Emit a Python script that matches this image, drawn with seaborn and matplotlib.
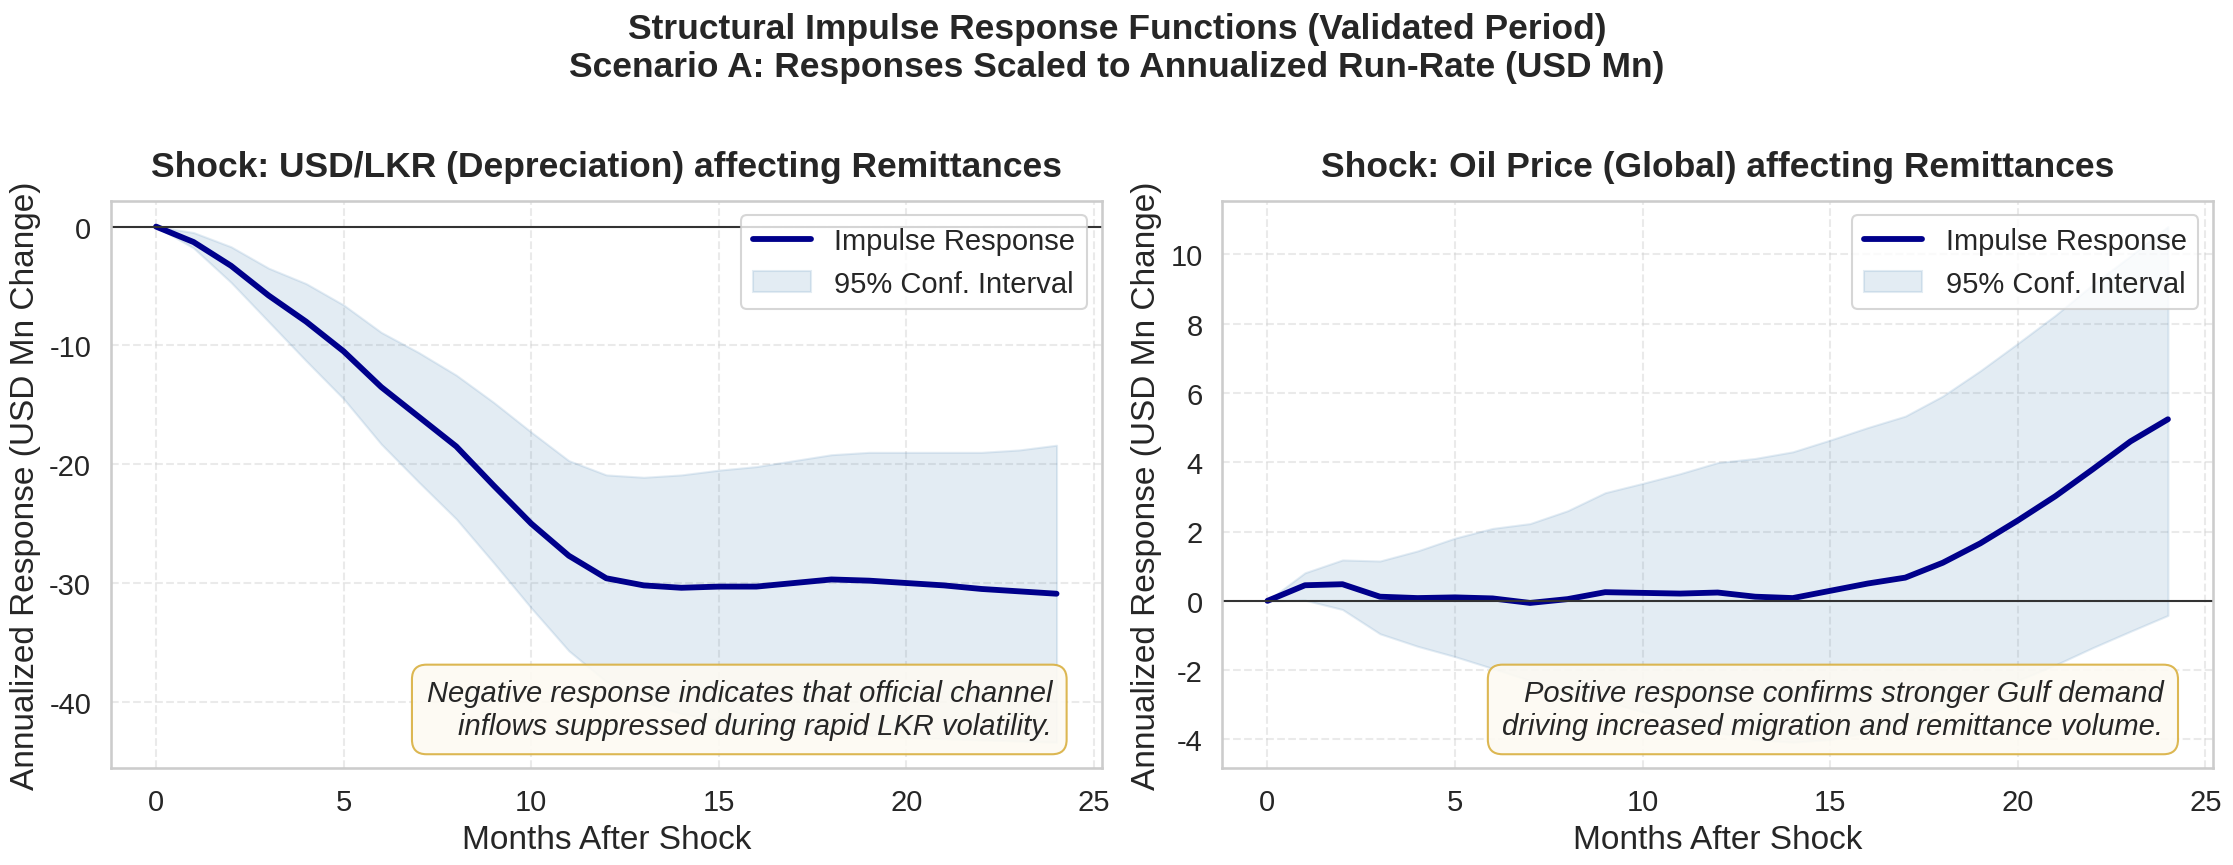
import numpy as np
import matplotlib.pyplot as plt
import seaborn as sns

months = list(range(25))

# Shock 1: USD/LKR depreciation
fx_irf = [0, -1.3, -3.3, -5.8, -8.0, -10.5, -13.5, -16.0, -18.5, -21.8, -25.0, -27.7,
          -29.6, -30.2, -30.4, -30.3, -30.3, -30.0, -29.7, -29.8, -30.0, -30.2, -30.5, -30.7, -30.9]
fx_upper = [0, -0.5, -1.7, -3.5, -4.8, -6.6, -8.9, -10.6, -12.5, -14.8, -17.3, -19.7,
            -20.9, -21.1, -20.9, -20.5, -20.2, -19.7, -19.2, -19.0, -19.0, -19.0, -19.0, -18.8, -18.4]
fx_lower = [0, -1.8, -4.7, -8.0, -11.3, -14.5, -18.3, -21.5, -24.6, -28.3, -32.1, -35.7,
            -38.3, -40.0, -41.0, -41.6, -42.0, -42.3, -42.5, -42.8, -43.0, -43.1, -43.2, -43.3, -43.4]

# Shock 2: global oil price
oil_irf = [0, 0.45, 0.48, 0.12, 0.08, 0.10, 0.07, -0.06, 0.05, 0.25, 0.23, 0.21,
           0.24, 0.12, 0.08, 0.29, 0.50, 0.67, 1.10, 1.66, 2.32, 3.02, 3.80, 4.60, 5.24]
oil_upper = [0, 0.81, 1.18, 1.15, 1.44, 1.81, 2.09, 2.23, 2.60, 3.12, 3.39, 3.67,
             3.99, 4.11, 4.30, 4.64, 5.00, 5.33, 5.91, 6.64, 7.43, 8.24, 9.13, 9.95, 10.8]
oil_lower = [0, 0.02, -0.25, -0.95, -1.31, -1.61, -1.95, -2.30, -2.60, -2.90, -3.20, -3.50,
             -3.80, -4.00, -4.08, -4.00, -3.80, -3.50, -3.10, -2.70, -2.30, -1.85, -1.35, -0.88, -0.42]

panels = [
    ("Shock: USD/LKR (Depreciation) affecting Remittances", fx_irf, fx_lower, fx_upper,
     "Negative response indicates that official channel\ninflows suppressed during rapid LKR volatility."),
    ("Shock: Oil Price (Global) affecting Remittances", oil_irf, oil_lower, oil_upper,
     "Positive response confirms stronger Gulf demand\ndriving increased migration and remittance volume."),
]

sns.set_theme(style="whitegrid")
plt.rcParams['font.family'] = ['Liberation Sans', 'DejaVu Sans']
plt.rcParams['axes.unicode_minus'] = False

fig, axes = plt.subplots(1, 2, figsize=(14.893, 5.773), dpi=150)

for ax, (title, irf, lo, hi, note) in zip(axes, panels):
    sns.lineplot(x=months, y=irf, ax=ax, color='darkblue', linewidth=2.8, label='Impulse Response')
    ax.fill_between(months, lo, hi, color='steelblue', alpha=0.15, label='95% Conf. Interval')
    ax.axhline(0, color='#333333', linewidth=1)
    ax.set_title(title, fontsize=17, fontweight='bold', pad=12)
    ax.set_xlabel("Months After Shock", fontsize=16)
    ax.set_ylabel("Annualized Response (USD Mn Change)", fontsize=16)
    ax.tick_params(labelsize=14)
    ax.grid(True, linestyle='--', alpha=0.4)
    ax.legend(loc='upper right', fontsize=14, frameon=True)
    ax.text(0.95, 0.05, note, transform=ax.transAxes, ha='right', va='bottom',
            fontsize=14, style='italic',
            bbox=dict(boxstyle='round,pad=0.5', facecolor='#fdfaf2', edgecolor='#d9b040', alpha=0.9))

fig.suptitle("Structural Impulse Response Functions (Validated Period)\n"
             "Scenario A: Responses Scaled to Annualized Run-Rate (USD Mn)",
             fontsize=17, fontweight='bold', y=0.985)
fig.subplots_adjust(left=0.0497, right=0.9906, top=0.767, bottom=0.112, wspace=0.122)
fig.savefig("out.png", dpi=150)
